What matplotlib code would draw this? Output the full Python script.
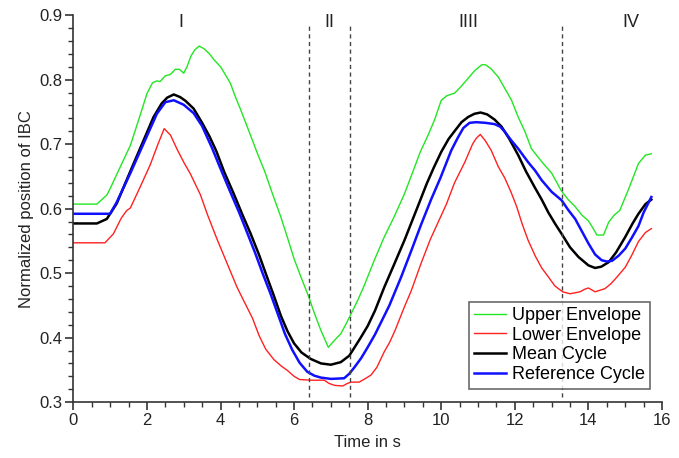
import matplotlib
matplotlib.use("Agg")
import matplotlib.pyplot as plt
from matplotlib.ticker import MultipleLocator

plt.rcParams['font.family'] = ['Liberation Sans', 'DejaVu Sans']

# Upper envelope
t_up = [0, 0.64, 0.91, 1.0, 1.27, 1.55, 1.8, 2.0, 2.15, 2.27, 2.36, 2.5, 2.64, 2.77, 2.88, 3.0, 3.09,
        3.2, 3.3, 3.42, 3.55, 3.7, 3.82, 4.0, 4.14, 4.27, 4.4, 4.55, 4.8, 5.0, 5.2, 5.4, 5.64, 5.82,
        6.0, 6.2, 6.4, 6.55, 6.73, 6.93, 7.1, 7.27, 7.4, 7.55, 7.73, 7.9, 8.18, 8.45, 8.7, 9.0, 9.2,
        9.43, 9.65, 9.82, 10.0, 10.15, 10.36, 10.5, 10.73, 10.91, 11.1, 11.2, 11.35, 11.55, 11.75,
        11.91, 12.09, 12.27, 12.45, 12.6, 12.77, 13.0, 13.27, 13.45, 13.64, 13.82, 14.0, 14.12,
        14.23, 14.41, 14.55, 14.7, 14.85, 15.09, 15.36, 15.55, 15.71]
v_up = [0.607, 0.607, 0.621, 0.631, 0.664, 0.698, 0.742, 0.778, 0.795, 0.798, 0.797, 0.806, 0.808,
        0.816, 0.816, 0.810, 0.820, 0.837, 0.846, 0.852, 0.848, 0.840, 0.831, 0.820, 0.807, 0.794,
        0.774, 0.753, 0.716, 0.686, 0.658, 0.625, 0.587, 0.555, 0.522, 0.492, 0.463, 0.438, 0.411,
        0.385, 0.396, 0.406, 0.420, 0.437, 0.458, 0.480, 0.520, 0.556, 0.585, 0.623, 0.653, 0.688,
        0.715, 0.738, 0.768, 0.775, 0.779, 0.787, 0.802, 0.814, 0.823, 0.823, 0.817, 0.804, 0.784,
        0.768, 0.742, 0.720, 0.693, 0.682, 0.670, 0.655, 0.627, 0.614, 0.603, 0.590, 0.581, 0.570,
        0.559, 0.559, 0.579, 0.590, 0.597, 0.630, 0.670, 0.683, 0.685]

# Lower envelope
t_lo = [0, 0.86, 1.09, 1.3, 1.45, 1.55, 1.82, 2.09, 2.3, 2.47, 2.64, 2.82, 3.0, 3.18, 3.45, 3.65, 3.91,
        4.18, 4.45, 4.65, 4.87, 5.05, 5.23, 5.45, 5.65, 5.82, 6.0, 6.15, 6.45, 6.82, 6.95, 7.1, 7.32,
        7.45, 7.55, 7.77, 7.95, 8.09, 8.25, 8.45, 8.6, 8.75, 9.0, 9.18, 9.45, 9.7, 9.98, 10.14, 10.36,
        10.64, 10.85, 10.95, 11.06, 11.2, 11.36, 11.55, 11.73, 11.9, 12.05, 12.2, 12.36, 12.55,
        12.73, 12.9, 13.09, 13.3, 13.5, 13.77, 13.9, 14.0, 14.18, 14.45, 14.6, 14.73, 15.0, 15.18,
        15.36, 15.55, 15.71]
v_lo = [0.547, 0.547, 0.561, 0.585, 0.597, 0.601, 0.634, 0.668, 0.700, 0.724, 0.714, 0.692, 0.672,
        0.654, 0.622, 0.590, 0.552, 0.515, 0.478, 0.455, 0.430, 0.403, 0.382, 0.366, 0.356, 0.349,
        0.340, 0.335, 0.334, 0.334, 0.329, 0.326, 0.325, 0.329, 0.331, 0.331, 0.337, 0.342, 0.354,
        0.378, 0.393, 0.412, 0.448, 0.472, 0.515, 0.552, 0.587, 0.607, 0.640, 0.672, 0.700, 0.709,
        0.715, 0.705, 0.690, 0.665, 0.647, 0.625, 0.603, 0.576, 0.551, 0.527, 0.508, 0.495, 0.480,
        0.471, 0.468, 0.471, 0.475, 0.477, 0.471, 0.476, 0.483, 0.491, 0.509, 0.528, 0.549, 0.563,
        0.569]

# Mean cycle
t_mean = [0, 0.64, 0.91, 1.18, 1.55, 1.91, 2.18, 2.4, 2.55, 2.73, 2.9, 3.05, 3.27, 3.5, 3.7, 3.88,
          4.1, 4.36, 4.6, 4.82, 5.05, 5.27, 5.45, 5.64, 5.82, 6.0, 6.2, 6.45, 6.73, 7.0, 7.27, 7.5,
          7.6, 7.8, 8.0, 8.2, 8.45, 8.7, 9.0, 9.36, 9.6, 9.8, 10.0, 10.2, 10.36, 10.55, 10.73, 10.9,
          11.07, 11.25, 11.45, 11.64, 11.85, 12.09, 12.3, 12.55, 12.73, 12.91, 13.1, 13.27, 13.5,
          13.73, 14.0, 14.18, 14.35, 14.55, 14.75, 15.0, 15.2, 15.36, 15.55, 15.71]
v_mean = [0.577, 0.577, 0.584, 0.608, 0.658, 0.706, 0.742, 0.763, 0.772, 0.777, 0.773, 0.767, 0.755,
          0.733, 0.712, 0.690, 0.657, 0.623, 0.590, 0.561, 0.528, 0.493, 0.465, 0.434, 0.410, 0.391,
          0.377, 0.367, 0.360, 0.358, 0.362, 0.372, 0.381, 0.399, 0.418, 0.442, 0.478, 0.511, 0.551,
          0.603, 0.638, 0.664, 0.688, 0.708, 0.720, 0.734, 0.742, 0.747, 0.749, 0.746, 0.738, 0.727,
          0.708, 0.683, 0.658, 0.632, 0.614, 0.594, 0.576, 0.561, 0.540, 0.525, 0.512, 0.508, 0.510,
          0.517, 0.532, 0.556, 0.577, 0.592, 0.607, 0.614]

# Reference cycle
t_ref = [0, 1.0, 1.18, 1.55, 1.91, 2.27, 2.5, 2.73, 3.0, 3.27, 3.5, 3.77, 4.0, 4.25, 4.5, 4.73, 4.95,
         5.15, 5.36, 5.6, 5.75, 5.95, 6.15, 6.36, 6.55, 6.73, 7.0, 7.36, 7.5, 7.64, 7.82, 8.0, 8.2,
         8.4, 8.59, 8.91, 9.2, 9.45, 9.73, 9.98, 10.27, 10.45, 10.6, 10.77, 10.95, 11.2, 11.45, 11.6,
         11.73, 11.9, 12.09, 12.36, 12.55, 12.73, 13.0, 13.27, 13.45, 13.64, 13.82, 14.0, 14.18,
         14.36, 14.5, 14.64, 14.82, 15.0, 15.18, 15.36, 15.5, 15.71]
v_ref = [0.592, 0.592, 0.610, 0.655, 0.701, 0.747, 0.765, 0.768, 0.761, 0.748, 0.728, 0.694, 0.662,
         0.628, 0.595, 0.562, 0.530, 0.499, 0.468, 0.430, 0.406, 0.381, 0.361, 0.347, 0.341, 0.338,
         0.336, 0.337, 0.344, 0.354, 0.368, 0.385, 0.405, 0.428, 0.450, 0.494, 0.537, 0.575, 0.615,
         0.648, 0.690, 0.710, 0.725, 0.733, 0.734, 0.733, 0.731, 0.727, 0.719, 0.706, 0.693, 0.672,
         0.659, 0.644, 0.626, 0.613, 0.598, 0.584, 0.565, 0.546, 0.529, 0.520, 0.518, 0.519, 0.527,
         0.538, 0.555, 0.573, 0.594, 0.618]

phase_bounds = [6.4, 7.51, 13.27]
phase_labels = ["I", "II", "IIII", "IV"]
phase_label_x = [2.93, 6.95, 10.73, 15.14]

fig = plt.figure(figsize=(6.79, 4.58), dpi=100)
ax = fig.add_axes([0.108, 0.122, 0.867, 0.845])

ax.plot(t_up, v_up, color='#22e622', lw=1.0, label='Upper Envelope')
ax.plot(t_lo, v_lo, color='#ff2020', lw=1.0, label='Lower Envelope')
ax.plot(t_mean, v_mean, color='black', lw=1.8, label='Mean Cycle')
ax.plot(t_ref, v_ref, color='#1010ff', lw=1.8, label='Reference Cycle')

for xb in phase_bounds:
    ax.axvline(xb, ymin=0.013, ymax=0.98, color='#444444', lw=1.0, ls=(0, (3, 2.5)))

for lab, xl in zip(phase_labels, phase_label_x):
    ax.text(xl, 0.889, lab, ha='center', va='center', fontsize=13, color='#222222')

ax.set_xlim(0, 16)
ax.set_ylim(0.3, 0.9)
ax.xaxis.set_major_locator(MultipleLocator(2))
ax.xaxis.set_minor_locator(MultipleLocator(0.5))
ax.yaxis.set_minor_locator(MultipleLocator(0.02))
ax.set_yticks([0.3, 0.4, 0.5, 0.6, 0.7, 0.8, 0.9])
ax.set_yticklabels(['0.3', '0.4', '0.5', '0.6', '0.7', '0.8', '0.9'])

for s in ['top', 'right']:
    ax.spines[s].set_visible(False)
for s in ['left', 'bottom']:
    ax.spines[s].set_color('#333333')
    ax.spines[s].set_linewidth(1.2)
ax.tick_params(which='major', direction='out', length=6, width=1.2, color='#333333',
               labelsize=12, labelcolor='#222222', pad=2)
ax.tick_params(which='minor', direction='out', length=3.5, width=1.0, color='#333333')

ax.set_xlabel('Time in s', fontsize=12, color='#222222', labelpad=5)
ax.set_ylabel('Normalized position of IBC', fontsize=12, color='#222222', labelpad=4)

leg = ax.legend(loc='lower right', bbox_to_anchor=(0.98, 0.035), fontsize=13, frameon=True,
                fancybox=False, edgecolor='#444444', handlelength=1.8, handletextpad=0.3,
                borderpad=0.3, labelspacing=0.15, borderaxespad=0.0)
leg.get_frame().set_linewidth(1.2)

fig.savefig('out.png', dpi=100)
